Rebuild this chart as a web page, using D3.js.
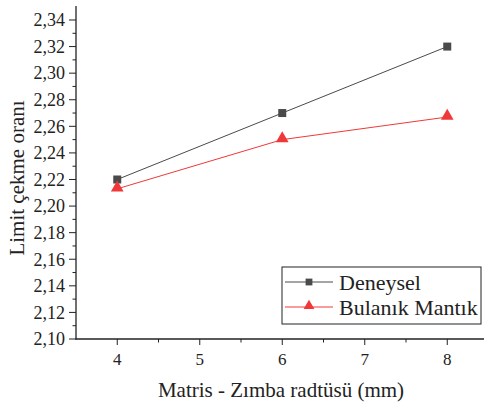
<!DOCTYPE html>
<html>
<head>
<meta charset="utf-8">
<script src="https://cdn.jsdelivr.net/npm/d3@7"></script>
<style>
  body { margin: 0; background: #fff; }
</style>
</head>
<body>
<div id="chart"></div>
<script>
var xValues = [4, 6, 8];
var deneysel = [2.22, 2.27, 2.32];
var bulanik = [2.213, 2.25, 2.267];
var yTicks = [2.10, 2.12, 2.14, 2.16, 2.18, 2.20, 2.22, 2.24, 2.26, 2.28, 2.30, 2.32, 2.34];
var xTicks = [4, 5, 6, 7, 8];
var seriesNames = ["Deneysel", "Bulanık Mantık"];

var width = 484, height = 407;
var font = "Liberation Serif";
var svg = d3.select("#chart").append("svg")
  .attr("width", width).attr("height", height);

var xScale = d3.scaleLinear().domain([3.5, 8.5]).range([76, 488.5]);
var yScale = d3.scaleLinear().domain([2.10, 2.35]).range([339, 6.7]);

var fmt = function (d) { return d3.format(".2f")(d).replace(".", ","); };

// minor ticks
var g = svg.append("g");
d3.range(3.5, 8.51, 0.5).forEach(function (v) {
  if (v === 3.5) return;
  var major = Math.abs(v - Math.round(v)) < 1e-6;
  g.append("line")
    .attr("x1", xScale(v)).attr("x2", xScale(v))
    .attr("y1", 339).attr("y2", 339 + (major ? 6 : 3.5))
    .attr("stroke", "#222").attr("stroke-width", 1);
});
d3.range(0, 25).forEach(function (i) {
  var v = 2.10 + i * 0.01;
  var major = i % 2 === 0;
  g.append("line")
    .attr("x1", 76).attr("x2", 76 - (major ? 7 : 3.5))
    .attr("y1", yScale(v)).attr("y2", yScale(v))
    .attr("stroke", "#222").attr("stroke-width", 1);
});

// axis lines
svg.append("line").attr("x1", 76).attr("x2", 76).attr("y1", 6).attr("y2", 339.5)
  .attr("stroke", "#222").attr("stroke-width", 1.3);
svg.append("line").attr("x1", 75.5).attr("x2", width).attr("y1", 339).attr("y2", 339)
  .attr("stroke", "#222").attr("stroke-width", 1.3);

// tick labels
svg.selectAll(".ylab").data(yTicks).enter().append("text")
  .attr("x", 65).attr("y", function (d) { return yScale(d); })
  .attr("dy", "0.35em").attr("text-anchor", "end").attr("fill", "#222")
  .style("font-family", font).style("font-size", "18px").text(fmt);
svg.selectAll(".xlab").data(xTicks).enter().append("text")
  .attr("x", function (d) { return xScale(d); }).attr("y", 359)
  .attr("dy", "0.35em").attr("text-anchor", "middle").attr("fill", "#222")
  .style("font-family", font).style("font-size", "17px").text(function (d) { return d; });

// axis titles
svg.append("text").attr("x", 281).attr("y", 397).attr("text-anchor", "middle")
  .attr("fill", "#222").style("font-family", font).style("font-size", "21px")
  .text("Matris - Zımba radtüsü (mm)");
svg.append("text").attr("transform", "translate(24,178)rotate(-90)")
  .attr("text-anchor", "middle").attr("fill", "#222")
  .style("font-family", font).style("font-size", "21px").text("Limit çekme oranı");

var line = d3.line()
  .x(function (d, i) { return xScale(xValues[i]); })
  .y(function (d) { return yScale(d); });

var grayC = "#4a4a4a", redC = "#f03838";

svg.append("path").datum(deneysel).attr("d", line)
  .attr("fill", "none").attr("stroke", grayC).attr("stroke-width", 1);
svg.append("path").datum(bulanik).attr("d", line)
  .attr("fill", "none").attr("stroke", redC).attr("stroke-width", 1);

var sq = d3.symbol().type(d3.symbolSquare).size(64);
var tri = d3.symbol().type(d3.symbolTriangle).size(70);

svg.selectAll(".sq").data(deneysel).enter().append("path")
  .attr("d", sq).attr("fill", grayC)
  .attr("transform", function (d, i) { return "translate(" + xScale(xValues[i]) + "," + yScale(d) + ")"; });
svg.selectAll(".tri").data(bulanik).enter().append("path")
  .attr("d", tri).attr("fill", redC)
  .attr("transform", function (d, i) { return "translate(" + xScale(xValues[i]) + "," + (yScale(d) - 1) + ")"; });

// legend
var leg = svg.append("g");
leg.append("rect").attr("x", 282).attr("y", 267).attr("width", 199).attr("height", 57)
  .attr("fill", "#fff").attr("stroke", "#222").attr("stroke-width", 1);
[[grayC, sq], [redC, tri]].forEach(function (s, i) {
  var yy = 282 + i * 25;
  leg.append("line").attr("x1", 285).attr("x2", 333).attr("y1", yy).attr("y2", yy)
    .attr("stroke", s[0]).attr("stroke-width", 1);
  leg.append("path").attr("d", s[1]).attr("fill", s[0])
    .attr("transform", "translate(309," + (yy - (i ? 1 : 0)) + ")scale(0.85)");
  leg.append("text").attr("x", 339).attr("y", yy).attr("dy", "0.35em").attr("fill", "#222")
    .style("font-family", font).style("font-size", "22px").text(seriesNames[i]);
});
</script>
</body>
</html>
